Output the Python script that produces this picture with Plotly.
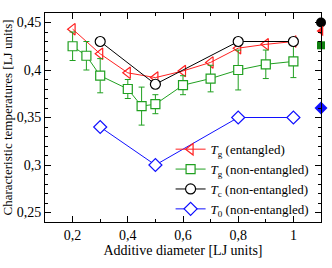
import plotly.graph_objects as go

# Tg entangled
x_tg_ent = [0.2, 0.3, 0.4, 0.5, 0.6, 0.7, 0.8, 0.9, 1.0]
y_tg_ent = [0.443, 0.417, 0.397, 0.392, 0.399, 0.408, 0.423, 0.427, 0.430]

# Tg non-entangled (with error bars)
x_tg_non = [0.2, 0.25, 0.3, 0.4, 0.45, 0.5, 0.6, 0.7, 0.8, 0.9, 1.0]
y_tg_non = [0.425, 0.415, 0.394, 0.380, 0.362, 0.364, 0.384, 0.391, 0.400, 0.406, 0.409]
e_tg_non = [0.015, 0.015, 0.018, 0.010, 0.020, 0.010, 0.010, 0.014, 0.021, 0.015, 0.017]

# Tc non-entangled
x_tc = [0.3, 0.5, 0.8, 1.0]
y_tc = [0.430, 0.385, 0.430, 0.430]

# T0 non-entangled
x_t0 = [0.3, 0.5, 0.8, 1.0]
y_t0 = [0.340, 0.300, 0.350, 0.350]

# reference values shown at the right edge (filled markers)
x_edge = 1.1
y_edge_tc = 0.450
y_edge_tg_ent = 0.441
y_edge_tg_non = 0.426
y_edge_t0 = 0.360

x_tickvals = [0.2, 0.4, 0.6, 0.8, 1.0]
x_ticktext = ["0,2", "0,4", "0,6", "0,8", "1"]
y_tickvals = [0.25, 0.3, 0.35, 0.4, 0.45]
y_ticktext = ["0,25", "0,3", "0,35", "0,4", "0,45"]

RED = "#ff2020"
GREEN = "#20a020"
BLUE = "#1010ff"
BLACK = "#000000"
FONT = "Liberation Serif"

fig = go.Figure()

fig.add_trace(go.Scatter(
    x=x_tg_ent, y=y_tg_ent, mode="lines+markers",
    name="<i>T</i><sub>g</sub> (entangled)",
    line=dict(color=RED, width=1),
    marker=dict(symbol="triangle-left-open", size=10, color=RED, line=dict(width=1.2)),
))
fig.add_trace(go.Scatter(
    x=x_tg_non, y=y_tg_non, mode="lines+markers",
    name="<i>T</i><sub>g</sub> (non-entangled)",
    line=dict(color=GREEN, width=1),
    marker=dict(symbol="square", size=9, color="white", line=dict(color=GREEN, width=1.2)),
    error_y=dict(type="data", array=e_tg_non, visible=True, color=GREEN, thickness=1, width=3),
))
fig.add_trace(go.Scatter(
    x=x_tc, y=y_tc, mode="lines+markers",
    name="<i>T</i><sub>c</sub> (non-entangled)",
    line=dict(color=BLACK, width=1),
    marker=dict(symbol="circle", size=10, color="white", line=dict(color=BLACK, width=1.2)),
))
fig.add_trace(go.Scatter(
    x=x_t0, y=y_t0, mode="lines+markers",
    name="<i>T</i><sub>0</sub> (non-entangled)",
    line=dict(color=BLUE, width=1),
    marker=dict(symbol="diamond", size=10, color="white", line=dict(color=BLUE, width=1.2)),
))

# filled markers at the right edge
fig.add_trace(go.Scatter(
    x=[x_edge], y=[y_edge_tc], mode="markers", showlegend=False, cliponaxis=False,
    marker=dict(symbol="circle", size=10, color=BLACK)))
fig.add_trace(go.Scatter(
    x=[x_edge], y=[y_edge_tg_ent], mode="markers", showlegend=False, cliponaxis=False,
    marker=dict(symbol="triangle-left", size=9, color=RED)))
fig.add_trace(go.Scatter(
    x=[x_edge], y=[y_edge_tg_non], mode="markers", showlegend=False, cliponaxis=False,
    marker=dict(symbol="square", size=8, color="#108010")))
fig.add_trace(go.Scatter(
    x=[x_edge], y=[y_edge_t0], mode="markers", showlegend=False, cliponaxis=False,
    marker=dict(symbol="diamond", size=10, color=BLUE)))

axis_common = dict(
    showgrid=False, zeroline=False, showline=True, linecolor="black", linewidth=1,
    mirror="ticks", ticks="inside", ticklen=6, tickwidth=1, tickcolor="black",
    tickfont=dict(family=FONT, size=14, color="black"), automargin=False,
)

fig.update_xaxes(
    range=[0.1, 1.1], tickvals=x_tickvals, ticktext=x_ticktext,
    minor=dict(dtick=0.1, tick0=0.1, ticks="inside", ticklen=3, tickcolor="black"),
    title=dict(text="Additive diameter [LJ units]", font=dict(family=FONT, size=14, color="black"), standoff=2),
    **axis_common)
fig.update_yaxes(
    range=[0.24, 0.46], tickvals=y_tickvals, ticktext=y_ticktext,
    minor=dict(dtick=0.01, tick0=0.25, ticks="inside", ticklen=3, tickcolor="black"),
    title=dict(text="Characteristic temperatures [LJ units]", font=dict(family=FONT, size=13, color="black"), standoff=4),
    **axis_common)

fig.update_layout(
    template="none",
    width=332, height=268,
    margin=dict(l=45, r=11, t=13, b=46),
    paper_bgcolor="white", plot_bgcolor="white",
    font=dict(family=FONT, size=13, color="black"),
    showlegend=True,
    legend=dict(x=0.455, y=0.42, xanchor="left", yanchor="top",
                bgcolor="rgba(0,0,0,0)", borderwidth=0,
                font=dict(family=FONT, size=13, color="black"),
                tracegroupgap=0, itemwidth=30),
)

fig.write_html("out.html", config={"displayModeBar": False},
               post_script="document.body.style.margin='0';")
